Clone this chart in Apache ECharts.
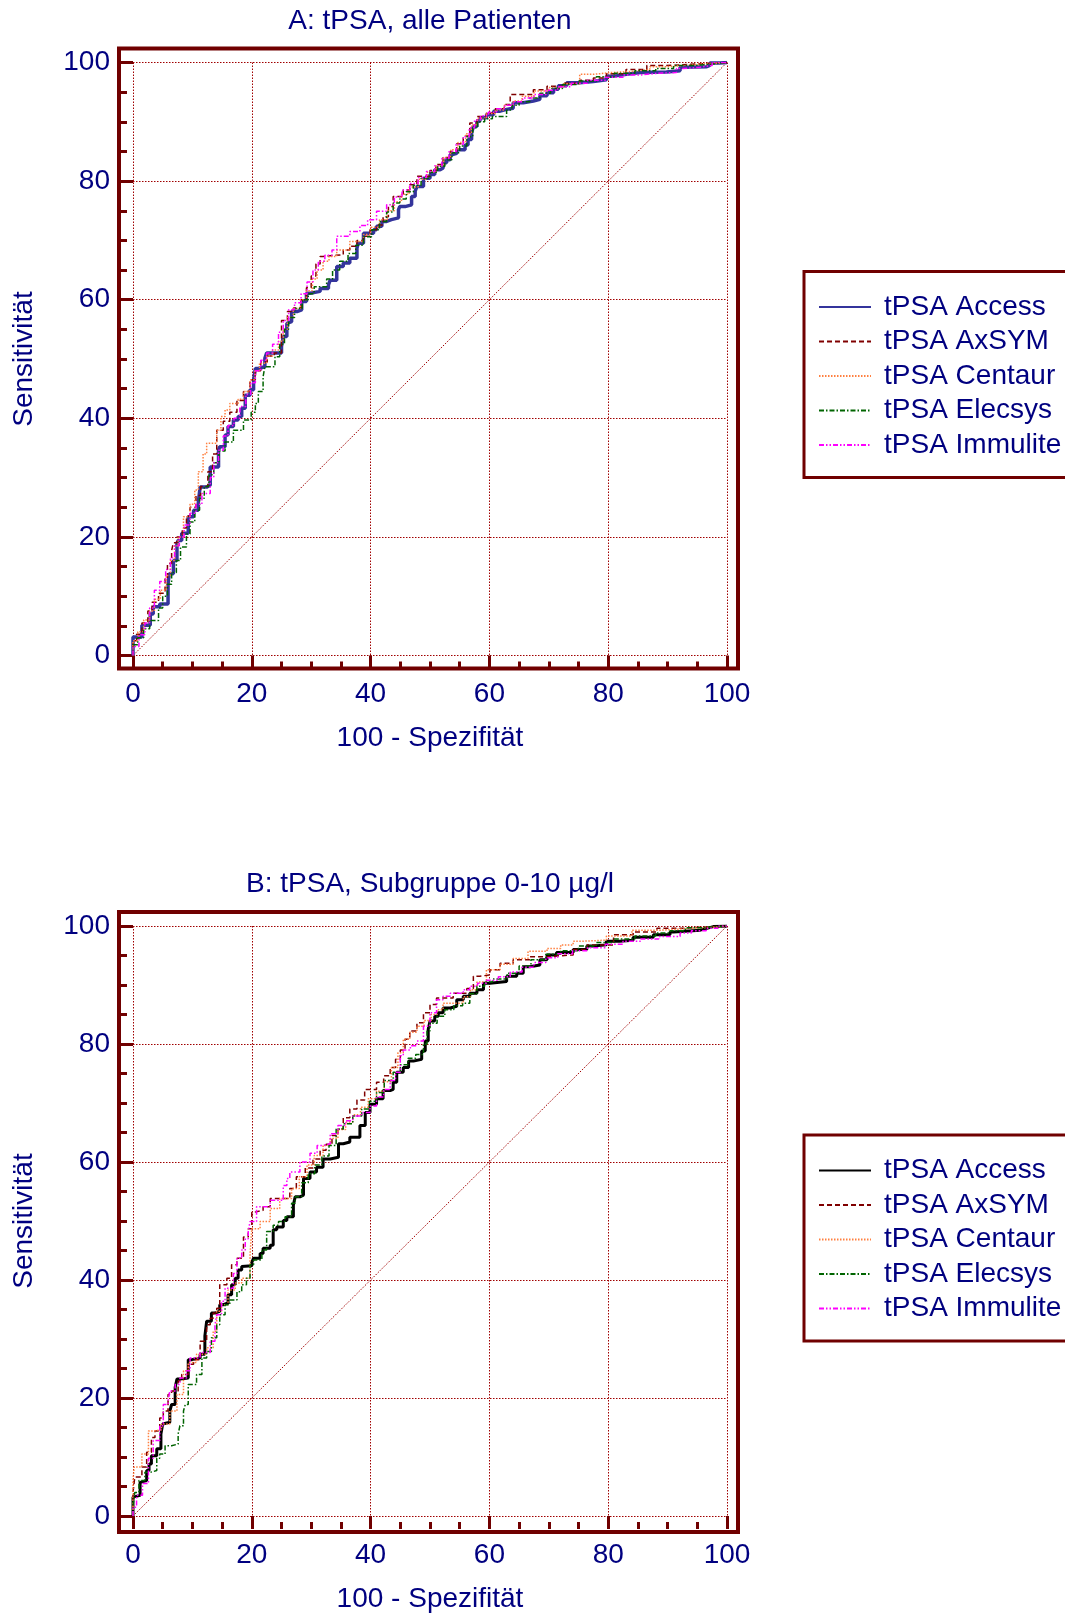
<!DOCTYPE html>
<html>
<head>
<meta charset="utf-8">
<script src="https://cdn.jsdelivr.net/npm/echarts@6/dist/echarts.min.js"></script>
<style>
  body { margin: 0; background: #fff; }
  .chart { position: absolute; left: 0; width: 1065px; height: 809px; }
</style>
</head>
<body>
<div id="chartA" class="chart" style="top:0"></div>
<div id="chartB" class="chart" style="top:809px"></div>
<script>
var names = ['tPSA Access', 'tPSA AxSYM', 'tPSA Centaur', 'tPSA Elecsys', 'tPSA Immulite'];
var diagonal = [[0, 0], [100, 100]];

// A: alle Patienten
var accessA = [[0,0],[1.5,3.1],[2.9,5.1],[3.4,7],[4.5,8.2],[5.9,8.7],[6.1,12.1],[6.8,13.8],[7.4,16],[7.6,18.9],[8.2,19.4],[9.3,20.6],[10.2,23.4],[11,24.5],[11.3,25.9],[12.4,28.4],[13,28.7],[14.4,31.8],[14.6,34.6],[15.5,35.2],[16,37.2],[16.9,38.6],[17.7,39.7],[18.3,40.3],[18.9,41.7],[19.7,43.9],[20.3,44.8],[20.6,46.5],[21.1,48.4],[22.2,48.7],[22.5,50.1],[23.1,51],[25,51],[25.3,52.1],[25.9,53.8],[26.1,56],[26.7,56.3],[27.6,58],[28.4,58.3],[29.2,59.7],[29.8,61.1],[31.5,61.4],[32,61.9],[32.9,61.9],[33.2,62.5],[34.3,63.3],[35.4,65.6],[36.5,66.2],[37.7,67],[37.9,68.7],[38.8,69.5],[40.5,71.2],[41,71.8],[41.9,72.4],[42.7,73.2],[43.5,73.5],[44.7,73.8],[44.9,75.2],[45.8,75.7],[46.9,76],[47.5,77.4],[47.8,78.3],[48.9,79.1],[50,80.5],[50.8,81.1],[51.7,81.9],[52.2,82.2],[52.8,83.1],[53.4,83.6],[53.9,84.5],[54.5,84.7],[55.9,85.3],[56.4,86.1],[57,87],[57.3,88.1],[57.9,89.2],[58.4,90.1],[59.5,90.7],[60.7,91.2],[61.8,91.8],[62.9,92.1],[64,92.3],[65.7,93.2],[67.4,93.5],[68.5,93.8],[69.7,94.4],[70.8,94.9],[71.6,95.5],[73,96.1],[75.2,96.6],[77.5,96.8],[79.7,97.1],[80.9,97.7],[83.1,98],[85.4,98.3],[89.8,98.4],[92.1,98.6],[92.6,99.2],[96.6,99.3],[97.1,99.5],[98.8,99.9],[100,100]];
var axsymA = [[0,0],[0.6,2.5],[1.5,3.6],[2.5,5.5],[3.2,7.5],[4.3,9],[5.4,10.5],[5.8,13],[6.5,15.5],[6.8,17.7],[7.4,19],[8.3,20],[9,21.5],[9.6,23.5],[10.6,25],[11.4,27],[12.6,28.5],[13.4,31],[14.1,34],[15.2,38],[16.3,39.5],[17.5,41],[18.6,43],[19.7,44.5],[20.6,46.5],[21.5,48],[22.6,49.5],[23.8,50.5],[25,51],[25,54.3],[26,56.5],[27,58],[28.3,58.6],[29.2,60],[30,62],[30.8,64],[31.5,66],[32,67.3],[35.4,67.6],[36.5,68.4],[37.7,69],[38.8,70],[39.9,70.7],[41,71.8],[42.1,72.6],[43,74],[43.8,75.7],[45.5,77.4],[46.6,78.5],[47.8,79.4],[50,80.8],[51,81.8],[52.2,82.8],[53.4,84],[54.5,85],[55.6,86.3],[56.7,87.6],[57.9,89.8],[59.5,90.9],[61,91.5],[62.5,92.2],[63.5,92.9],[64.6,94.6],[67.4,94.6],[69.7,95.4],[72.5,96],[75.2,96.5],[77.5,97],[79.7,97.4],[83,98.1],[86.5,98.8],[89.8,99.5],[92.1,99.6],[96,99.8],[100,100]];
var centaurA = [[0,0],[0.8,2.5],[1.8,4],[2.8,6],[3.6,7.5],[4.6,9.5],[5.6,11],[6.3,13.5],[7,16],[7.6,18.5],[8.5,20],[9.6,23.4],[10.4,25.5],[11,27.9],[11.8,31],[12.4,34],[14.1,35.8],[14.8,38],[15.5,40.3],[16.3,41.4],[17.7,42.5],[18.6,43.2],[19.7,44.5],[20.5,46.5],[21.3,48],[22.5,49.3],[23.5,50.5],[24.5,51.5],[25.3,53],[26,55],[27,57],[28.2,58.5],[29.2,60],[30.2,61.5],[31,63.5],[32,65],[33,66.5],[34.3,67.3],[36.5,68.4],[38.8,69.8],[40,71],[41.5,72.2],[42.8,73.5],[44,75],[45.2,76.5],[46.5,77.8],[48,79],[49.5,80.3],[51,81.5],[52.3,82.6],[53.5,84],[54.7,85.3],[56,86.5],[57,88],[58,89.5],[59.5,90.6],[61,91.4],[62.5,92],[64,92.8],[65.5,93.5],[67.5,94.3],[70,95.2],[72.5,95.8],[75.2,96.4],[77.5,98],[80.5,98.3],[84,98.5],[87,98.8],[89.8,99.3],[93,99.5],[96.5,99.8],[100,100]];
var elecsysA = [[0,0],[0.8,1.8],[1.8,3],[2.8,4.5],[4.3,5.9],[5,8],[5.8,10],[6.5,12],[7.3,14],[8,16],[9,18.3],[9.6,20.5],[10.4,22.5],[11.2,24.5],[12,26.5],[12.8,28.5],[13.6,30.5],[14.5,32.5],[15.5,34.5],[16.9,36],[18.6,38],[19.9,39.7],[20.6,41],[21.1,42.5],[21.9,44.5],[22.2,47],[23.9,48.7],[24.7,50.4],[25.5,52.5],[26.2,55],[27.2,57],[28.5,58.5],[29.5,60],[30.5,61],[32.6,62.2],[33.6,63.5],[34.8,65],[36.2,66.5],[37.5,67.8],[38.8,69.2],[40.2,70.6],[41.5,71.8],[42.7,73.2],[43.8,74.8],[44.9,76.3],[46,77],[47.2,78.2],[48.5,79.3],[50,80.5],[51.3,81.5],[52.5,82.5],[53.7,83.6],[55,84.8],[56.2,85.9],[57.2,87.5],[58,89],[59.2,90],[60.5,90.5],[62.9,90.9],[63.8,92],[65,92.8],[66.8,93.4],[68.5,94],[70.3,94.8],[72.3,95.6],[75,96.3],[78,96.9],[81,97.6],[84.5,98.2],[88,98.6],[91,99],[94.5,99.5],[97,99.7],[100,100]];
var immuliteA = [[0,0],[1,1.5],[2,3.5],[2.8,5.5],[3.6,8],[4.5,11],[5.5,12.5],[6.3,14.5],[7,16.5],[7.8,18.5],[8.6,20],[9.6,22],[10.6,24],[11.6,25.5],[13,27.3],[13.6,30],[14.4,32.5],[15.2,34.6],[16,37],[17,38.8],[18,40],[19,42],[19.8,44],[20.6,46],[21.5,48],[22.5,49.8],[23.5,51],[24.5,52.5],[25.3,54.5],[26.2,56.5],[27.2,58.3],[28.3,59.5],[29.3,61],[30.3,63],[31.2,65],[32.3,66.5],[33.5,67.5],[34.3,68.4],[36.5,70.7],[38.2,71.5],[39.5,72.5],[41,73.5],[42.7,74.9],[44,76],[45.3,77.3],[46.6,78.5],[48,79.6],[49.4,80.6],[50.8,81.6],[52,82.6],[53.2,83.8],[54.4,85],[55.6,86.2],[56.6,87.5],[57.5,89],[58.5,90.3],[59.8,91],[61.2,91.6],[62.6,92.2],[64,92.8],[65.6,93.4],[67.5,94],[69.5,94.6],[71.5,95.3],[73.8,95.9],[76.5,96.5],[79.5,97],[82.5,97.5],[85.5,97.9],[88.5,98.2],[91.5,98.3],[92.6,99],[95.5,99.2],[97.5,99.5],[100,100]];

// B: Subgruppe 0-10 µg/l
var accessB = [[0,0],[0.2,3.2],[1.2,3.5],[1.3,5.7],[2.3,6],[2.7,7.7],[3.1,8.8],[4,10.2],[4.7,11.4],[5,13.9],[5.1,15.6],[6.2,15.9],[6.5,17.8],[7.1,18.9],[7.4,21.8],[7.9,23.2],[9.3,23.4],[9.9,26.5],[11.3,26.8],[12.1,27.4],[12.4,30.5],[13.2,33],[13.8,34.4],[14.6,34.7],[15.2,35.8],[16,36.1],[16.6,37.5],[17.2,39.2],[17.7,40.3],[18.3,41.7],[18.6,42.3],[20,42.4],[20.3,43],[21.4,43.7],[21.9,44.5],[23.1,45.4],[23.6,45.9],[24.2,48.5],[25.3,49],[25.9,50.1],[27,50.7],[27.3,52.7],[28.1,54.1],[28.7,54.4],[29.8,57.2],[30.9,58.3],[32,59.1],[33.2,60.5],[34.6,60.8],[35.4,63.1],[36.5,63.4],[38.2,64.2],[39.1,66.2],[39.9,68.4],[41,69.8],[42.1,70.7],[43.3,72.1],[43.8,72.3],[44.4,73.5],[45.5,75.2],[46.4,76],[47.2,77.1],[48.6,77.4],[49.2,78.8],[49.7,80.5],[50,82.5],[50.8,83.9],[51.4,84.7],[52.2,85.3],[53.4,86.1],[54.5,86.4],[55.6,87.5],[56.7,88.1],[57.9,88.6],[59,89.2],[60.1,90.3],[62.9,90.6],[64.6,91.5],[65.7,92],[66.8,93.1],[68.5,93.4],[69.7,94.3],[71.3,95.1],[74.1,95.5],[76.4,96],[77.5,96.6],[79.7,96.8],[81.9,97.4],[84.2,97.6],[87.6,98.1],[90.4,98.5],[91,99],[95.5,99.3],[96.6,99.6],[97.7,99.9],[100,100]];
var axsymB = [[0,0],[0.3,4],[1.5,6.6],[2.3,8.3],[3.1,10.8],[3.7,13.3],[4.5,14.4],[5.1,16.6],[5.9,17.8],[6.5,20.6],[7.6,21.2],[8.2,22.9],[9.3,24],[10.2,25.7],[11.3,26.5],[12.4,29.6],[13,32.4],[13.5,33.5],[14.1,34.4],[14.6,35.2],[15.8,39.2],[16.6,40.3],[17.5,42.6],[18.6,43.7],[19.4,47.3],[20,48.7],[20.5,51.5],[21.9,51.8],[23.1,52.4],[26.4,53.8],[27.5,55.5],[29,57.5],[30.3,59],[31.5,60.5],[32.5,62],[33.5,63],[34.5,64.5],[35.4,65.6],[36.5,67.5],[37.7,69],[39,70.5],[41,72.3],[42.2,73.5],[43.3,74.6],[44.2,76],[45,77.4],[45.8,79],[46.6,80.8],[47.8,82.2],[48.9,83.6],[50,85.3],[51.1,86.7],[53.9,87.8],[56.2,88.6],[57.3,89.4],[58.4,91.5],[60.1,91.7],[61.8,92.6],[64,93.7],[66.8,94.3],[69.7,94.8],[74.1,95.1],[76.4,96],[80.9,96.8],[84.2,98.5],[88.2,99],[92.1,99.6],[96,99.8],[100,100]];
var centaurB = [[0,0],[0.2,6],[1.5,8.3],[2.6,10.5],[3.4,14.4],[4.8,14.6],[6.2,15.6],[7.4,17.8],[8.5,20.6],[9.3,24.6],[10.7,26],[12.4,27.4],[13.5,28.5],[14.1,31.3],[14.9,34.7],[16,35.8],[17.2,38.3],[18.3,39.5],[19.7,40.3],[20,44.2],[21.4,48.7],[23.1,49.9],[24.7,52.1],[26.7,53.8],[28,55.5],[29.3,57.5],[30.5,59.5],[32,61.1],[33.2,62.8],[34.5,64],[35.8,65.5],[37,66.8],[38.3,68],[39.6,69.3],[41,70.7],[42.3,72],[43.5,73.6],[44.6,76],[45.5,78.5],[46.6,80.8],[47.8,82],[49,83],[50.2,84],[51.2,85],[52.2,85.8],[55.6,86.9],[56.8,88],[57.9,89.2],[59.5,90.5],[61.8,92.6],[64,93.5],[66.5,94.5],[69.7,95.7],[72,96.2],[74.1,96.8],[75.2,97.4],[79.7,97.6],[84,98.3],[88.9,99.3],[94,99.6],[98,99.8],[100,100]];
var elecsysB = [[0,0],[0.3,1.8],[1,4],[2,6],[2.9,7.4],[4,7.7],[4.5,9.8],[5.4,10.5],[6.5,11.9],[7.6,12.2],[7.9,13.9],[8.5,15.3],[8.8,17.8],[9.3,18.9],[9.3,21.8],[10.7,22.3],[11.6,24],[12.4,26.8],[13.2,27.9],[14.1,30.2],[14.6,32.4],[15.5,34.1],[16.3,35.8],[17.5,36.6],[18.3,38],[19.1,39.2],[19.7,40.3],[20.3,42.6],[21.7,43.4],[22.5,45.1],[23.6,48.2],[24.5,49.3],[25.6,49.9],[26.7,50.7],[27.3,53],[28.4,54.1],[29.5,56.5],[30.6,58],[31.8,59.5],[33,61],[34.2,62.8],[35.4,65.6],[37,66.5],[38.5,67.8],[39.8,69],[41,70.3],[42.3,71.8],[43.8,73.8],[45,75.2],[46.3,76.5],[47.6,77.6],[48.9,78.2],[49.5,80],[50,82.2],[51.2,83.5],[52.5,84.7],[54,85.8],[55.5,86.5],[56.7,86.9],[57.9,88.5],[59.2,89.8],[60.5,90.5],[63,91],[65,92],[67,93.2],[69.5,94.3],[72,95.2],[75,95.8],[78,96.6],[81,97.2],[84.5,97.8],[88,98.3],[90.4,98.8],[93,99.2],[95.5,99.7],[100,100]];
var immuliteB = [[0,0],[0.6,1.5],[1.6,3.5],[2.6,5.5],[3.4,9.8],[4.5,12.8],[5.1,15.3],[5.9,18.9],[6.2,19.5],[7.1,21.2],[7.9,22.3],[9,23.4],[9.6,24.6],[11.3,26.8],[13,27.7],[13.8,29.6],[14.1,32.4],[14.9,34.1],[15.5,36.4],[16.9,38.6],[17.5,41.1],[18.3,43.7],[18.9,45.1],[19.4,47],[19.7,48.2],[20.8,49.9],[23.1,52.4],[25.3,53.5],[25.9,56],[26.4,57.2],[28.1,58.3],[29.8,60],[31,61.5],[32,62.8],[33.2,63.1],[34.5,64.8],[35.8,66.2],[37,67],[38.5,67.8],[39.9,68.4],[41,69.5],[42.2,71],[43.3,72.3],[44.2,73.8],[45,75.2],[45.5,78],[46.7,79],[47.8,79.7],[48.9,80.5],[50,83],[51.1,85.3],[52.2,87.5],[53.4,88.1],[55.6,88.6],[56.7,89.2],[58,89.8],[59.5,90.3],[61.5,90.8],[63.5,91.4],[65.5,92.2],[67.5,93],[69.5,93.8],[71.5,94.6],[74,95.3],[76.5,95.8],[79.5,96.3],[82.5,96.9],[85.4,97.4],[88.5,97.8],[92.1,98.2],[94,98.8],[96.5,99.2],[98.5,99.6],[100,100]];

var font = '"Liberation Sans", Arial, sans-serif';
var navy = '#000080';
var frameColor = '#700000';
var gridColor = '#a00000';

function lineStyles(accessColor, accessWidth) {
    return [
        { color: accessColor, width: accessWidth, type: 'solid' },
        { color: '#800000', width: 1.5, type: [5, 3] },
        { color: '#ff8040', width: 1.5, type: [1.5, 1.5] },
        { color: '#006400', width: 1.5, type: [5, 2, 1.5, 2] },
        { color: '#ff00ff', width: 1.5, type: [5, 2, 1.5, 2, 1.5, 2] }
    ];
}

function buildOption(cfg) {
    var left = 133, width = 594, height = 593;
    var styles = lineStyles(cfg.accessColor, cfg.accessWidth);
    var series = [{
        type: 'line', data: diagonal, symbol: 'none', silent: true,
        lineStyle: { color: gridColor, width: 1, type: [1.5, 1.5] }
    }];
    cfg.data.forEach(function (d, i) {
        series.push({
            name: names[i], type: 'line', data: d, step: 'start',
            symbol: 'none', lineStyle: styles[i], itemStyle: { color: styles[i].color }
        });
    });
    return {
        animation: false,
        backgroundColor: '#fff',
        textStyle: { fontFamily: font },
        grid: { left: left, top: cfg.top, width: width, height: height },
        xAxis: {
            type: 'value', min: 0, max: 100, interval: 20, offset: 13,
            name: '100 - Spezifität', nameLocation: 'middle', nameGap: 56,
            nameTextStyle: { fontSize: 28, color: navy, fontFamily: font },
            axisLine: { show: false, onZero: false },
            axisTick: { show: true, inside: true, length: 13, lineStyle: { color: frameColor, width: 3 } },
            minorTick: { show: true, splitNumber: 4, length: 7, lineStyle: { color: frameColor, width: 3 } },
            axisLabel: { fontSize: 28, color: navy, margin: 12, fontFamily: font },
            splitLine: { show: true, lineStyle: { color: gridColor, width: 1, type: [1.5, 1.5] } }
        },
        yAxis: {
            type: 'value', min: 0, max: 100, interval: 20, offset: 14,
            name: 'Sensitivität', nameLocation: 'middle', nameGap: 81,
            nameTextStyle: { fontSize: 28, color: navy, fontFamily: font },
            axisLine: { show: false, onZero: false },
            axisTick: { show: true, inside: true, length: 14, lineStyle: { color: frameColor, width: 3 } },
            minorTick: { show: true, splitNumber: 4, length: 8, lineStyle: { color: frameColor, width: 3 } },
            axisLabel: { fontSize: 28, color: navy, margin: 9, fontFamily: font },
            splitLine: { show: true, lineStyle: { color: gridColor, width: 1, type: [1.5, 1.5] } }
        },
        legend: {
            orient: 'vertical', left: 818, top: cfg.legendTop + 20.5, padding: 0,
            itemWidth: 52, itemHeight: 14, itemGap: 4.5,
            selectedMode: false,
            itemStyle: { opacity: 0 },
            data: names,
            textStyle: { fontSize: 28, color: navy, lineHeight: 30, fontFamily: font, padding: [0, 0, 0, 8] }
        },
        graphic: [
            {
                type: 'rect', silent: true, z: 100,
                shape: { x: left - 14, y: cfg.top - 14, width: width + 25, height: height + 27 },
                style: { fill: 'none', stroke: frameColor, lineWidth: 4 }
            },
            {
                type: 'rect', silent: true,
                shape: { x: 804, y: cfg.legendTop, width: 300, height: 206 },
                style: { fill: 'none', stroke: frameColor, lineWidth: 3 }
            },
            {
                type: 'text', silent: true, x: left + width / 2, y: cfg.titleY,
                style: { text: cfg.title, fill: navy, font: '28px ' + font, textAlign: 'center', textVerticalAlign: 'middle' }
            }
        ],
        series: series
    };
}

var chartA = echarts.init(document.getElementById('chartA'));
chartA.setOption(buildOption({
    title: 'A: tPSA, alle Patienten', titleY: 21.5, top: 62.5, legendTop: 271.5,
    accessColor: '#34349c', accessWidth: 3.5,
    data: [accessA, axsymA, centaurA, elecsysA, immuliteA]
}));

var chartB = echarts.init(document.getElementById('chartB'));
chartB.setOption(buildOption({
    title: 'B: tPSA, Subgruppe 0-10 µg/l', titleY: 75.5, top: 117, legendTop: 326,
    accessColor: '#000000', accessWidth: 3,
    data: [accessB, axsymB, centaurB, elecsysB, immuliteB]
}));
</script>
</body>
</html>
